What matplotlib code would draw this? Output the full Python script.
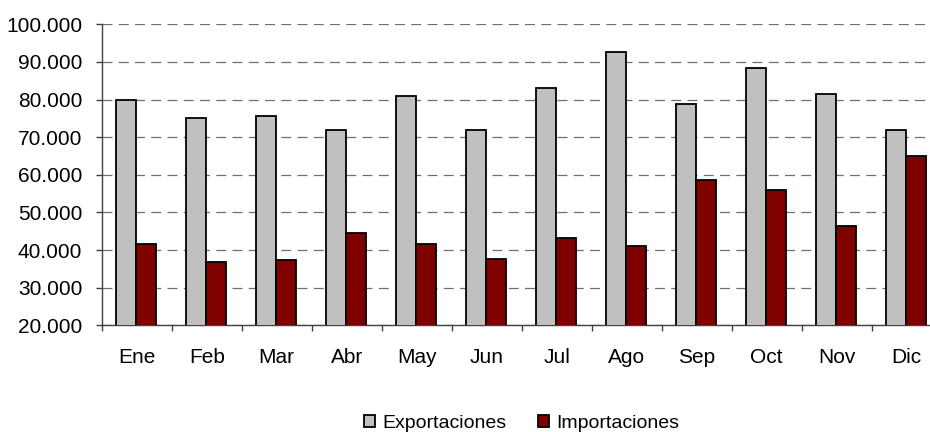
import matplotlib
matplotlib.use("Agg")
import matplotlib.pyplot as plt
from matplotlib.ticker import FuncFormatter, FixedLocator
import numpy as np

months = ["Ene", "Feb", "Mar", "Abr", "May", "Jun", "Jul", "Ago", "Sep", "Oct", "Nov", "Dic"]
exportaciones = [80000, 75200, 75600, 71900, 81000, 71900, 83100, 92700, 78900, 88500, 81600, 71900]
importaciones = [41600, 36900, 37400, 44400, 41600, 37500, 43200, 41000, 58600, 56000, 46500, 65100]

plt.rcParams['font.family'] = ['Liberation Sans', 'DejaVu Sans']

fig = plt.figure(figsize=(9.3, 4.32), dpi=100)
ax = fig.add_axes([101.7 / 930, 106.7 / 432, 840 / 930, 301 / 432])

x = np.arange(len(months))
w = 0.2857
ax.bar(x - 0.157 + 0.0, exportaciones, width=w, color="#C0C0C0", edgecolor="black",
       linewidth=1.3, label="Exportaciones", zorder=3, bottom=0)
ax.bar(x + 0.129, importaciones, width=w, color="#800000", edgecolor="black",
       linewidth=1.3, label="Importaciones", zorder=3)

ax.set_xlim(-0.5, len(months) - 0.5)
ax.set_ylim(20000, 100000)
ax.set_yticks(np.arange(20000, 100001, 10000))
ax.yaxis.set_major_formatter(FuncFormatter(lambda v, p: f"{int(v):,}".replace(",", ".")))

ax.set_xticks(x)
ax.set_xticklabels(months)
ax.xaxis.set_minor_locator(FixedLocator(np.arange(-0.5, len(months), 1.0)))
ax.tick_params(axis="x", which="major", length=0, pad=16, labelsize=15)
ax.tick_params(axis="x", which="minor", length=4, width=1, direction="out", color="#404040")
ax.tick_params(axis="y", length=4, width=1, direction="out", pad=10, labelsize=15, color="#404040")

ax.yaxis.grid(True, color="#707070", linewidth=0.9, linestyle=(0, (8, 5)), zorder=0)
ax.set_axisbelow(True)

for s in ["top", "right"]:
    ax.spines[s].set_visible(False)
for s in ["left", "bottom"]:
    ax.spines[s].set_color("#404040")
    ax.spines[s].set_linewidth(1)

leg = ax.legend(loc="upper center", bbox_to_anchor=(0.5, -0.24), ncol=2, frameon=False,
                fontsize=14, handlelength=0.55, handleheight=0.55, handletextpad=0.4,
                columnspacing=1.6)
for h in leg.legend_handles:
    h.set_linewidth(1.3)

fig.savefig("out.png", dpi=100)
